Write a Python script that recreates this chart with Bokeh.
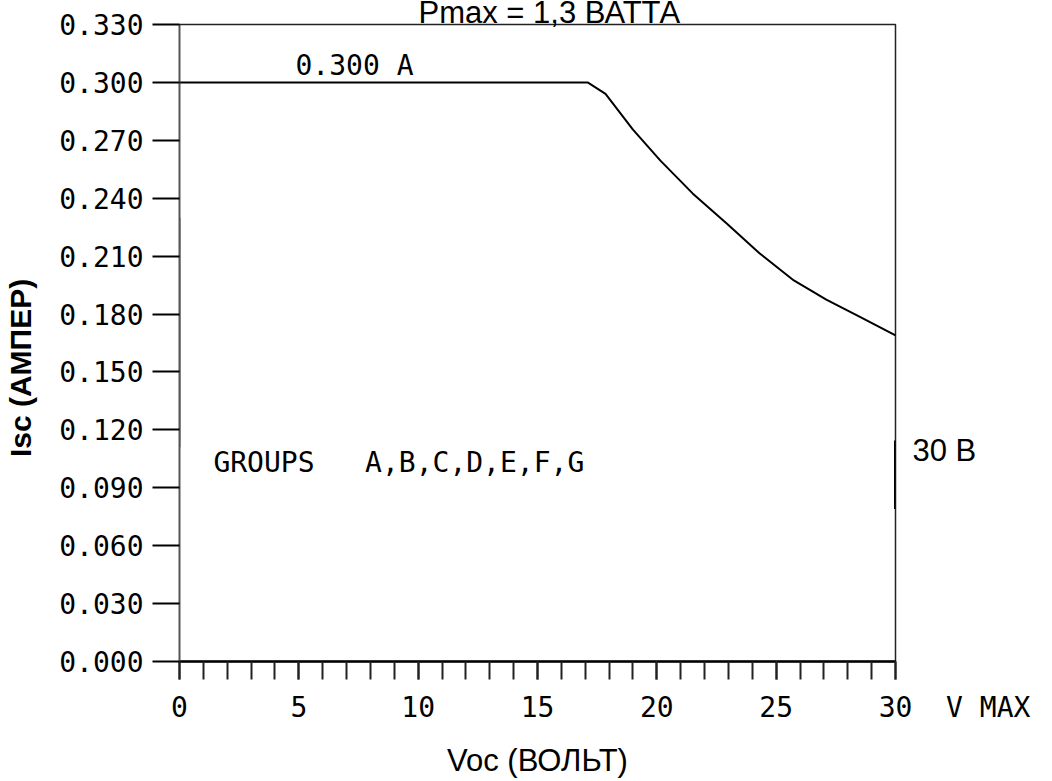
from bokeh.plotting import figure
from bokeh.models import (Range1d, FixedTicker, PrintfTickFormatter, Label,
                          LinearAxis, AllLabels)
from bokeh.embed import file_html
from bokeh.resources import INLINE

# ---- data ----
voc = [0.0, 17.1, 17.85, 19.0, 20.15, 21.5, 22.94, 24.3, 25.74, 27.1, 28.53, 30.0]
isc = [0.300, 0.300, 0.2941, 0.2755, 0.2595, 0.2425, 0.2268, 0.2115, 0.1974, 0.1875, 0.1784, 0.1689]
x_major = [0, 5, 10, 15, 20, 25, 30]
x_minor = list(range(0, 31))
y_ticks = [0.0, 0.03, 0.06, 0.09, 0.12, 0.15, 0.18, 0.21, 0.24, 0.27, 0.30, 0.33]
NB = "\u00a0"
title_text = "Pmax = 1,3 ВАТТА"
xlabel_text = "Voc (ВОЛЬТ)"
ylabel_text = "Isc (АМПЕР)" + NB * 6
level_text = "0.300 A"
groups_text = "GROUPS" + NB * 3 + "A,B,C,D,E,F,G"
x_last_label = NB * 7 + "30" + NB * 2 + "V" + NB + "MAX"
limit_text = "30 B"
limit_y = 0.1093
limit_span = [0.079, 0.1145]

MONO = "DejaVu Sans Mono"
SANS = "Liberation Sans"

p = figure(frame_width=716, frame_height=637,
           min_border_left=179, min_border_right=157,
           min_border_top=24, min_border_bottom=118,
           x_range=Range1d(0, 30), y_range=Range1d(0, 0.33),
           output_backend="svg", toolbar_location=None)
p.background_fill_color = "white"
p.border_fill_color = "white"
p.outline_line_color = "#222222"
p.outline_line_width = 1.5
p.xgrid.visible = False
p.ygrid.visible = False

# title (sits right at the page top, as in the reference)
p.title.text = title_text
p.title.text_font = SANS
p.title.text_font_size = "31px"
p.title.text_font_style = "normal"
p.title.text_color = "black"
p.title.align = "left"
p.title.offset = 239
p.title.vertical_align = "top"
p.title.standoff = -14

xa = p.xaxis[0]
xa.ticker = FixedTicker(ticks=x_major, minor_ticks=x_minor)
xa.major_label_overrides = {30: x_last_label}
xa.major_label_policy = AllLabels()
xa.major_tick_out = 18
xa.major_tick_in = 0
xa.minor_tick_out = 18
xa.minor_tick_in = 0
xa.major_tick_line_color = "#222222"
xa.minor_tick_line_color = "#222222"
xa.major_tick_line_width = 2
xa.minor_tick_line_width = 2
xa.axis_line_color = "black"
xa.axis_line_width = 2.5
xa.major_label_text_font = MONO
xa.major_label_text_font_size = "28px"
xa.major_label_text_color = "black"
xa.major_label_standoff = 11
xa.axis_label = xlabel_text
xa.axis_label_text_font = SANS
xa.axis_label_text_font_size = "31px"
xa.axis_label_text_font_style = "normal"
xa.axis_label_text_color = "black"
xa.axis_label_standoff = 16

ya = p.yaxis[0]
ya.ticker = FixedTicker(ticks=y_ticks, minor_ticks=[])
ya.formatter = PrintfTickFormatter(format="%.3f")
ya.major_tick_out = 27
ya.major_tick_in = 0
ya.major_tick_line_color = "black"
ya.major_tick_line_width = 2
ya.minor_tick_line_color = None
ya.axis_line_color = "#555555"
ya.axis_line_width = 1.5
ya.major_label_text_font = MONO
ya.major_label_text_font_size = "28px"
ya.major_label_text_color = "black"
ya.major_label_standoff = 9
ya.axis_label = ylabel_text
ya.axis_label_text_font = SANS
ya.axis_label_text_font_size = "30px"
ya.axis_label_text_font_style = "bold"
ya.axis_label_text_color = "black"
ya.axis_label_standoff = 19

# right-side "30 B" marker text
ra = LinearAxis(ticker=FixedTicker(ticks=[limit_y], minor_ticks=[]),
                major_label_overrides={limit_y: limit_text})
ra.axis_line_color = None
ra.major_tick_line_color = None
ra.minor_tick_line_color = None
ra.major_tick_out = 0
ra.major_tick_in = 0
ra.major_label_standoff = 17
ra.major_label_text_font = SANS
ra.major_label_text_font_size = "31px"
ra.major_label_text_color = "black"
p.add_layout(ra, "right")

# curve
p.line(voc, isc, line_color="black", line_width=2)

# darker segments on frame edges
p.line([30, 30], limit_span, line_color="black", line_width=3)
p.line([0, 0], [0.111, 0.230], line_color="black", line_width=1.5)

# text inside the plot
p.add_layout(Label(x=4.86, y=0.3088, text=level_text, text_font=MONO,
                   text_font_size="28px", text_baseline="middle", text_color="black"))
p.add_layout(Label(x=1.42, y=0.1031, text=groups_text, text_font=MONO,
                   text_font_size="28px", text_baseline="middle", text_color="black"))

open("out.html", "w").write(file_html(p, INLINE))
